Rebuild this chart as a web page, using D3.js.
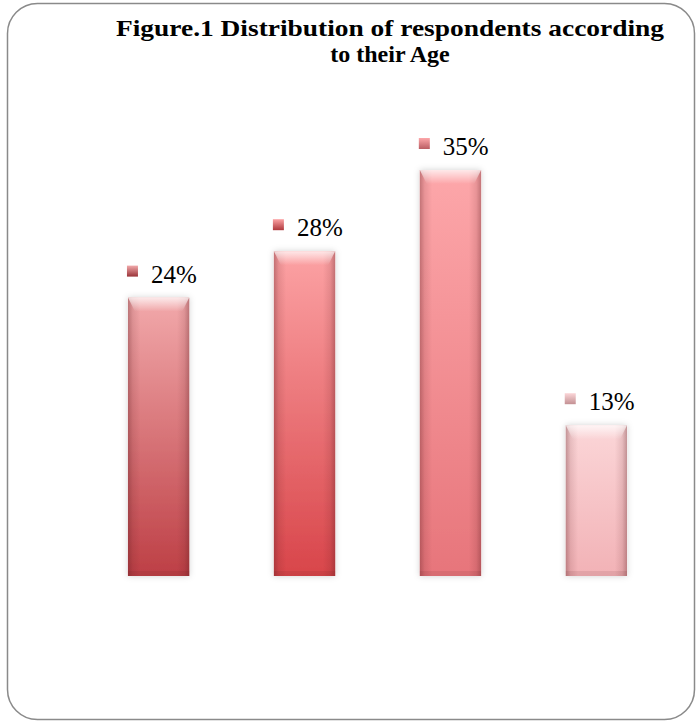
<!DOCTYPE html>
<html>
<head>
<meta charset="utf-8">
<script src="https://cdn.jsdelivr.net/npm/d3@7"></script>
<style>
  body { margin: 0; background: #fff; }
  text { font-family: "Liberation Serif", "Times New Roman", serif; }
</style>
</head>
<body>
<svg id="chart" width="699" height="723"></svg>
<script>
const categories = ["A", "B", "C", "D"];
const values = [24, 28, 35, 13];
const labels = ["24%", "28%", "35%", "13%"];
const topColors = ["#f2a9ab", "#fca2a4", "#fda7aa", "#fbd6d8"];
const bottomColors = ["#bd3f45", "#d8454a", "#e7757b", "#f2b2b6"];
const titleLines = ["Figure.1 Distribution of respondents according", "to their Age"];

const svg = d3.select("#chart");
const defs = svg.append("defs");

// outer frame
svg.append("rect")
  .attr("x", 7.5).attr("y", 3.5)
  .attr("width", 687).attr("height", 716)
  .attr("rx", 30).attr("ry", 30)
  .attr("fill", "#fff")
  .attr("stroke", "#8a8a8a")
  .attr("stroke-width", 1.5);

// title
const title = svg.append("g").selectAll("text")
  .data(titleLines)
  .join("text")
  .attr("x", 390)
  .attr("y", (d, i) => 36 + i * 26)
  .attr("text-anchor", "middle")
  .attr("font-size", 24)
  .attr("font-weight", "bold")
  .attr("fill", "#000")
  .text(d => d);
// first line is set wider in the original
title.filter((d, i) => i === 0)
  .attr("textLength", 548)
  .attr("lengthAdjust", "spacingAndGlyphs");

const x = d3.scaleBand()
  .domain(categories)
  .range([55, 700])
  .paddingInner(0.58)
  .paddingOuter(0.5);

const y = d3.scaleLinear()
  .domain([0, 40])
  .range([576, 112]);

// gradients
values.forEach((v, i) => {
  const g = defs.append("linearGradient")
    .attr("id", "grad" + i)
    .attr("x1", 0).attr("y1", 0).attr("x2", 0).attr("y2", 1);
  g.append("stop").attr("offset", "0%").attr("stop-color", topColors[i]);
  g.append("stop").attr("offset", "100%").attr("stop-color", bottomColors[i]);

  const m = defs.append("linearGradient")
    .attr("id", "mark" + i)
    .attr("x1", 0).attr("y1", 0).attr("x2", 0).attr("y2", 1);
  m.append("stop").attr("offset", "0%").attr("stop-color", topColors[i]);
  m.append("stop").attr("offset", "100%").attr("stop-color", d3.color(bottomColors[i]).darker(0.6));
});

// horizontal bevel (dark edges)
const side = defs.append("linearGradient").attr("id", "side")
  .attr("x1", 0).attr("y1", 0).attr("x2", 1).attr("y2", 0);
[[0, 0.35], [0.08, 0.12], [0.2, 0], [0.8, 0], [0.92, 0.12], [1, 0.35]].forEach(s => {
  side.append("stop").attr("offset", s[0]).attr("stop-color", "#5a1a1e").attr("stop-opacity", s[1]);
});

const hl = defs.append("linearGradient").attr("id", "hl")
  .attr("x1", 0).attr("y1", 0).attr("x2", 0).attr("y2", 1);
hl.append("stop").attr("offset", 0).attr("stop-color", "#fff").attr("stop-opacity", 0.75);
hl.append("stop").attr("offset", 1).attr("stop-color", "#fff").attr("stop-opacity", 0);

defs.append("filter").attr("id", "shadow")
  .attr("x", "-20%").attr("y", "-10%").attr("width", "140%").attr("height", "120%")
  .append("feDropShadow")
  .attr("dx", 0).attr("dy", 0).attr("stdDeviation", 3)
  .attr("flood-color", "#000").attr("flood-opacity", 0.18);

const bars = svg.append("g").selectAll("g")
  .data(values)
  .join("g");

bars.append("rect")
  .attr("x", (d, i) => x(categories[i]))
  .attr("y", d => y(d))
  .attr("width", x.bandwidth())
  .attr("height", d => y(0) - y(d))
  .attr("fill", (d, i) => `url(#grad${i})`)
  .attr("filter", "url(#shadow)");

bars.append("rect")
  .attr("x", (d, i) => x(categories[i]))
  .attr("y", d => y(d))
  .attr("width", x.bandwidth())
  .attr("height", d => y(0) - y(d))
  .attr("fill", "url(#side)");

// top bevel highlight
bars.append("path")
  .attr("d", (d, i) => {
    const x0 = x(categories[i]), w = x.bandwidth(), t = y(d);
    return `M${x0},${t}H${x0 + w}L${x0 + w - 7},${t + 14}H${x0 + 7}Z`;
  })
  .attr("fill", "url(#hl)");

// bottom edge
bars.append("rect")
  .attr("x", (d, i) => x(categories[i]))
  .attr("y", y(0) - 5)
  .attr("width", x.bandwidth())
  .attr("height", 5)
  .attr("fill", "#5a1a1e")
  .attr("opacity", 0.1);

// labels with legend markers
bars.append("rect")
  .attr("x", (d, i) => x(categories[i]) - 1)
  .attr("y", d => y(d) - 32)
  .attr("width", 11).attr("height", 11)
  .attr("fill", (d, i) => `url(#mark${i})`);

bars.append("text")
  .attr("x", (d, i) => x(categories[i]) + 23)
  .attr("y", d => y(d) - 15)
  .attr("font-size", 25)
  .attr("fill", "#000")
  .text((d, i) => labels[i]);
</script>
</body>
</html>
